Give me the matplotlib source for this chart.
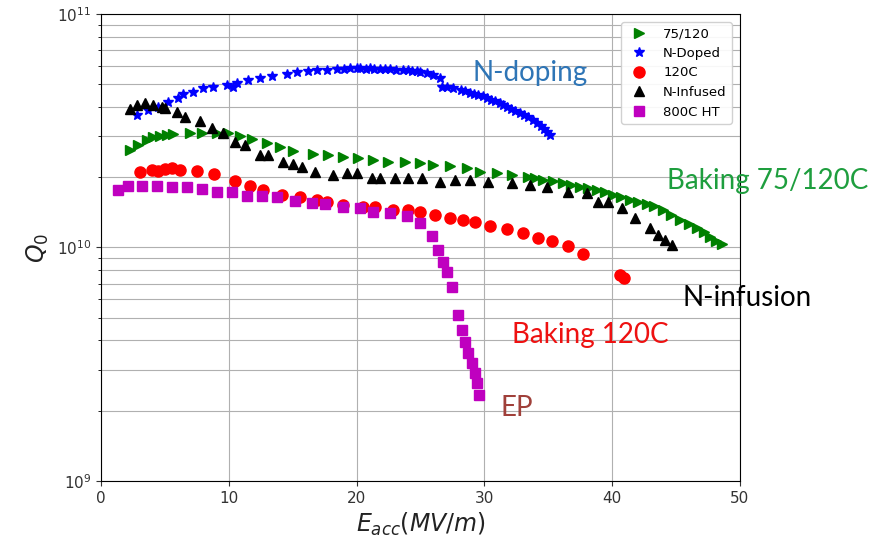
import matplotlib
matplotlib.use("Agg")
import matplotlib.pyplot as plt
from matplotlib.ticker import LogLocator, MultipleLocator

# ---- data (E_acc in MV/m, Q0) ----
e_7512 = [2.27, 2.90, 3.60, 4.07, 4.62, 5.16, 5.63, 6.96, 7.90, 9.08, 9.94, 10.88,
          11.82, 12.99, 14.01, 15.02, 16.59, 17.76, 18.94, 20.11, 21.28, 22.46,
          23.79, 24.96, 25.98, 27.31, 28.64, 29.66, 30.99, 32.16, 33.41, 34.0,
          34.59, 35.4, 36.15, 36.8, 37.48, 38.1, 38.81, 39.4, 40.06, 40.7, 41.39,
          42.0, 42.72, 43.3, 43.97, 44.6, 45.31, 46.0, 46.64, 47.2, 47.65, 48.1, 48.59]
q_7512 = [2.62e10, 2.75e10, 2.88e10, 2.97e10, 3.00e10, 3.03e10, 3.06e10, 3.09e10,
          3.09e10, 3.09e10, 3.09e10, 3.00e10, 2.92e10, 2.81e10, 2.69e10, 2.59e10,
          2.51e10, 2.49e10, 2.44e10, 2.42e10, 2.37e10, 2.32e10, 2.32e10, 2.30e10,
          2.25e10, 2.23e10, 2.19e10, 2.10e10, 2.08e10, 2.04e10, 2.00e10, 1.98e10,
          1.95e10, 1.92e10, 1.89e10, 1.86e10, 1.82e10, 1.79e10, 1.76e10, 1.72e10,
          1.68e10, 1.64e10, 1.60e10, 1.57e10, 1.54e10, 1.50e10, 1.45e10, 1.38e10,
          1.31e10, 1.26e10, 1.21e10, 1.16e10, 1.11e10, 1.07e10, 1.03e10]

e_ndoped = [2.79, 3.68, 4.46, 5.24, 6.03, 6.42, 7.20, 7.98, 8.76, 9.86, 10.33, 10.64,
            11.50, 12.44, 13.38, 14.55, 15.34, 16.20, 16.90, 17.68, 18.47, 19.0,
            19.48, 20.0, 20.27, 20.7, 21.05, 21.4, 21.83, 22.2, 22.61, 23.1, 23.63,
            24.0, 24.33, 24.7, 24.96, 25.5, 25.98, 26.53, 26.68, 27.07, 27.54, 28.17,
            28.5, 28.87, 29.2, 29.50, 29.9, 30.20, 30.5, 30.83, 31.2, 31.46, 31.8,
            32.08, 32.4, 32.79, 33.1, 33.41, 33.8, 34.12, 34.4, 34.66, 34.9, 35.13]
q_ndoped = [3.69e10, 3.88e10, 4.00e10, 4.20e10, 4.37e10, 4.54e10, 4.63e10, 4.82e10,
            4.87e10, 4.97e10, 4.87e10, 5.06e10, 5.21e10, 5.32e10, 5.42e10, 5.53e10,
            5.65e10, 5.70e10, 5.76e10, 5.76e10, 5.81e10, 5.84e10, 5.87e10, 5.87e10,
            5.87e10, 5.84e10, 5.87e10, 5.84e10, 5.81e10, 5.81e10, 5.81e10, 5.78e10,
            5.76e10, 5.73e10, 5.70e10, 5.68e10, 5.65e10, 5.59e10, 5.48e10, 5.32e10,
            4.87e10, 4.87e10, 4.82e10, 4.73e10, 4.66e10, 4.59e10, 4.55e10, 4.50e10,
            4.44e10, 4.37e10, 4.30e10, 4.24e10, 4.15e10, 4.07e10, 4.00e10, 3.92e10,
            3.85e10, 3.77e10, 3.70e10, 3.62e10, 3.52e10, 3.41e10, 3.32e10, 3.22e10,
            3.12e10, 3.03e10]

e_120c = [3.05, 3.99, 4.46, 5.01, 5.56, 6.18, 7.51, 8.84, 10.49, 11.66, 12.68, 14.16,
          15.57, 16.90, 17.68, 18.94, 20.50, 21.44, 22.85, 24.02, 24.96, 26.13, 27.31,
          28.33, 29.26, 30.44, 31.77, 33.02, 34.19, 35.29, 36.54, 37.72, 40.61, 40.92]
q_120c = [2.11e10, 2.15e10, 2.13e10, 2.17e10, 2.19e10, 2.15e10, 2.13e10, 2.06e10,
          1.93e10, 1.83e10, 1.76e10, 1.68e10, 1.64e10, 1.60e10, 1.57e10, 1.52e10,
          1.49e10, 1.49e10, 1.45e10, 1.45e10, 1.42e10, 1.38e10, 1.34e10, 1.31e10,
          1.29e10, 1.24e10, 1.20e10, 1.15e10, 1.10e10, 1.07e10, 1.01e10, 9.34e9,
          7.63e9, 7.40e9]

e_ninf = [2.27, 2.82, 3.44, 4.07, 4.77, 5.00, 5.95, 6.57, 7.75, 8.69, 9.55, 10.49,
          11.27, 12.44, 13.07, 14.24, 15.02, 15.73, 16.74, 18.15, 19.25, 20.03, 21.20,
          21.83, 23.00, 24.02, 25.12, 26.53, 27.70, 28.87, 30.28, 32.16, 33.57, 34.90,
          36.54, 38.03, 38.89, 39.67, 40.77, 41.78, 42.96, 43.58, 44.13, 44.68]
q_ninf = [3.92e10, 4.07e10, 4.16e10, 4.07e10, 4.00e10, 3.95e10, 3.80e10, 3.62e10,
          3.48e10, 3.25e10, 3.09e10, 2.83e10, 2.75e10, 2.49e10, 2.49e10, 2.32e10,
          2.28e10, 2.21e10, 2.11e10, 2.04e10, 2.08e10, 2.08e10, 1.98e10, 1.98e10,
          1.98e10, 1.98e10, 1.98e10, 1.91e10, 1.95e10, 1.95e10, 1.91e10, 1.89e10,
          1.85e10, 1.82e10, 1.73e10, 1.71e10, 1.57e10, 1.57e10, 1.48e10, 1.34e10,
          1.21e10, 1.13e10, 1.08e10, 1.02e10]

e_800 = [1.33, 2.11, 3.21, 4.38, 5.56, 6.73, 7.90, 9.08, 10.25, 11.42, 12.60, 13.77,
         15.18, 16.51, 17.53, 18.94, 20.27, 21.28, 22.61, 23.94, 24.96, 25.90, 26.37,
         26.76, 27.07, 27.46, 27.93, 28.25, 28.48, 28.72, 29.03, 29.26, 29.42, 29.58]
q_800 = [1.76e10, 1.83e10, 1.83e10, 1.83e10, 1.82e10, 1.82e10, 1.78e10, 1.73e10,
         1.73e10, 1.66e10, 1.66e10, 1.64e10, 1.58e10, 1.55e10, 1.54e10, 1.49e10,
         1.48e10, 1.42e10, 1.41e10, 1.36e10, 1.27e10, 1.12e10, 9.75e9, 8.66e9,
         7.85e9, 6.77e9, 5.14e9, 4.44e9, 3.94e9, 3.53e9, 3.20e9, 2.90e9, 2.63e9,
         2.34e9]

fig = plt.figure(figsize=(8.72, 5.45), dpi=100)
ax = fig.add_axes([0.1158, 0.1174, 0.7328, 0.857])

ax.plot(e_7512, q_7512, '>', color='g', markersize=7, linestyle='none', label='75/120')
ax.plot(e_ndoped, q_ndoped, '*', color='b', markersize=7, linestyle='none', label='N-Doped')
ax.plot(e_120c, q_120c, 'o', color='r', markersize=8, linestyle='none', label='120C')
ax.plot(e_ninf, q_ninf, '^', color='k', markersize=7, linestyle='none', label='N-Infused')
ax.plot(e_800, q_800, 's', color='m', markersize=7, linestyle='none', label='800C HT')

ax.set_yscale('log')
ax.set_xlim(0, 50)
ax.set_ylim(1e9, 1e11)
ax.xaxis.set_major_locator(MultipleLocator(10))
ax.yaxis.set_major_locator(LogLocator(base=10))
ax.yaxis.set_minor_locator(LogLocator(base=10, subs=range(2, 10)))
ax.grid(True, which='major', color='#b0b0b0', linewidth=0.8)
ax.grid(True, which='minor', axis='y', color='#b0b0b0', linewidth=0.8)
ax.set_axisbelow(True)
ax.tick_params(labelsize=11, colors='#333333')
for s in ax.spines.values():
    s.set_color('black')

ax.set_xlabel('$E_{acc}(MV/m)$', fontsize=17, color='#222222')
ax.set_ylabel('$Q_0$', fontsize=17, color='#222222')

ax.legend(loc='upper right', fontsize=9.5, framealpha=0.9, borderaxespad=0.6)

tf = ['Lato', 'DejaVu Sans']
fs = 20
ax.text(29.1, 5.59e10, 'N-doping', color='#2E75B6', fontsize=fs, family=tf, va='center', clip_on=False)
ax.text(44.3, 1.93e10, 'Baking 75/120C', color='#1E9E3E', fontsize=fs, family=tf, va='center', clip_on=False)
ax.text(45.5, 6.08e9, 'N-infusion', color='black', fontsize=fs, family=tf, va='center', clip_on=False)
ax.text(32.2, 4.22e9, 'Baking 120C', color='#EE1111', fontsize=fs, family=tf, va='center', clip_on=False)
ax.text(31.3, 2.05e9, 'EP', color='#A0403A', fontsize=fs, family=tf, va='center', clip_on=False)

fig.savefig('out.png', dpi=100)
